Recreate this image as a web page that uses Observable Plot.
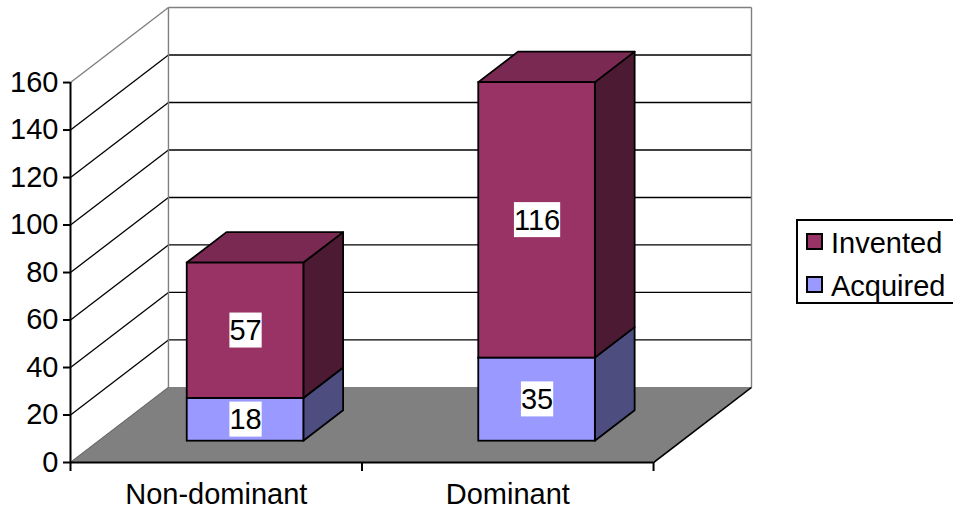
<!DOCTYPE html>
<html>
<head>
<meta charset="utf-8">
<script src="https://cdn.jsdelivr.net/npm/d3@7"></script>
<script src="https://cdn.jsdelivr.net/npm/@observablehq/plot@0.6"></script>
<style>
  html, body { margin: 0; padding: 0; background: #fff; overflow: hidden; }
  #chart { position: relative; width: 953px; height: 514px; font-family: "Liberation Sans", Arial, sans-serif; }
  #legend { position: absolute; left: 796px; top: 219px; width: 180px; height: 81px; border: 2px solid #000; background: #fff; }
  .item { position: absolute; left: 0; height: 32px; line-height: 32px; font-size: 29px; color: #000; }
  .sw { position: absolute; left: 8px; width: 13px; height: 13px; border: 2px solid #000; }
  .lbl { position: absolute; left: 33px; top: 0; white-space: nowrap; }
</style>
</head>
<body>
<div id="chart"></div>
<script>
// Stacked counts per category
const categories = ["Non-dominant", "Dominant"];
const seriesNames = ["Acquired", "Invented"];   // bottom to top
const acquired = [18, 35];
const invented = [57, 116];
const yTicks = [0, 20, 40, 60, 80, 100, 120, 140, 160];

// Face shading for each series: front, top, side
const faceColors = {
  Acquired: {front: "#9999FF", top: "#7A7ACC", side: "#4D4D80"},
  Invented: {front: "#993366", top: "#7A2952", side: "#4D1A33"}
};

const FONT_SIZE = 29;

// Oblique 3-D projection: moving from the front (t = 0) to the back wall (t = 1)
// shifts a point right by DX category units and up by DY value units.
const DX = 0.336;
const DY = 31.6;
const BAR_T0 = 0.284, BAR_T1 = 0.69;   // bar depth span
const BAR_X0 = 0.305, BAR_X1 = 0.705;  // bar extent within its category band
const px = (x, t) => x + t * DX;
const py = (v, t) => v + t * DY;

const nCat = categories.length;
const yMax = yTicks[yTicks.length - 1];

// Stack segments
const segments = categories.flatMap((cat, i) => {
  let lo = 0;
  const vals = {Acquired: acquired[i], Invented: invented[i]};
  return seriesNames.map((s, k) => {
    const seg = {cat, i, series: s, value: vals[s], lo, hi: lo + vals[s], isTop: k === seriesNames.length - 1};
    lo += vals[s];
    return seg;
  });
});

const fronts = segments.map(d => ({
  x1: px(d.i + BAR_X0, BAR_T0), x2: px(d.i + BAR_X1, BAR_T0),
  y1: py(d.lo, BAR_T0), y2: py(d.hi, BAR_T0),
  fill: faceColors[d.series].front
}));

const sides = segments.flatMap((d, k) => [BAR_T0, BAR_T1].map(t => ({
  key: k, x: px(d.i + BAR_X1, t), y1: py(d.lo, t), y2: py(d.hi, t),
  fill: faceColors[d.series].side
})));

const tops = segments.filter(d => d.isTop).flatMap((d, k) => [BAR_T0, BAR_T1].map(t => ({
  key: k, y: py(d.hi, t), x1: px(d.i + BAR_X0, t), x2: px(d.i + BAR_X1, t),
  fill: faceColors[d.series].top
})));

// Floor parallelogram
const floor = [0, 1].map(t => ({y: py(0, t), x1: px(0, t), x2: px(nCat, t)}));

// Gridlines on the left and back walls
const gridLines = yTicks.filter(v => v > 0 && v < yMax).flatMap(v => [
  {x1: px(0, 0), y1: py(v, 0), x2: px(0, 1), y2: py(v, 1)},
  {x1: px(0, 1), y1: py(v, 1), x2: px(nCat, 1), y2: py(v, 1)}
]);

// Wall outlines
const wallEdges = [
  {x1: px(0, 0), y1: py(yMax, 0), x2: px(0, 1), y2: py(yMax, 1)},
  {x1: px(0, 1), y1: py(yMax, 1), x2: px(nCat, 1), y2: py(yMax, 1)},
  {x1: px(0, 1), y1: py(0, 1), x2: px(0, 1), y2: py(yMax, 1)},
  {x1: px(nCat, 1), y1: py(0, 1), x2: px(nCat, 1), y2: py(yMax, 1)}
];
const floorLeft = [{x1: px(0, 0), y1: py(0, 0), x2: px(0, 1), y2: py(0, 1)}];
const floorRight = [{x1: px(nCat, 0), y1: py(0, 0), x2: px(nCat, 1), y2: py(0, 1)}];

const labels = segments.map(d => ({
  x: px(d.i + (BAR_X0 + BAR_X1) / 2, BAR_T0),
  y: py((d.lo + d.hi) / 2, BAR_T0),
  text: String(d.value)
}));

const catTicks = categories.map((c, i) => i + 0.5);
const bandEdges = d3.range(nCat + 1);

const chart = Plot.plot({
  width: 953,
  height: 514,
  marginLeft: 70,
  marginRight: 202,
  marginTop: 7,
  marginBottom: 52,
  x: {domain: [0, nCat + DX], axis: null},
  y: {domain: [0, yMax + DY], axis: null},
  color: {type: "identity"},
  style: {fontFamily: "'Liberation Sans', Arial, sans-serif", fontSize: FONT_SIZE + "px", background: "#fff", color: "#000", overflow: "visible"},
  marks: [
    Plot.link(gridLines, {x1: "x1", y1: "y1", x2: "x2", y2: "y2", stroke: "#000", strokeWidth: 1.3}),
    Plot.link(wallEdges, {x1: "x1", y1: "y1", x2: "x2", y2: "y2", stroke: "#808080", strokeWidth: 1.4}),
    Plot.areaX(floor, {y: "y", x1: "x1", x2: "x2", fill: "#808080", curve: "linear"}),
    Plot.link(floorLeft, {x1: "x1", y1: "y1", x2: "x2", y2: "y2", stroke: "#6a6a6a", strokeWidth: 1}),
    Plot.link(floorRight, {x1: "x1", y1: "y1", x2: "x2", y2: "y2", stroke: "#000", strokeWidth: 1.6}),
    Plot.area(sides, {x1: "x", y1: "y1", y2: "y2", z: "key", fill: "fill", stroke: "#000", strokeWidth: 1.8, curve: "linear"}),
    Plot.area(tops, {y1: "y", x1: "x1", x2: "x2", z: "key", fill: "fill", stroke: "#000", strokeWidth: 1.8, curve: "linear"}),
    Plot.rect(fronts, {x1: "x1", x2: "x2", y1: "y1", y2: "y2", fill: "fill", stroke: "#000", strokeWidth: 1.8}),
    Plot.text(labels, {x: "x", y: "y", text: "text", fontSize: FONT_SIZE, fill: "#000"}),
    // Axes
    Plot.ruleX([0], {y1: 0, y2: yMax, stroke: "#000", strokeWidth: 2}),
    Plot.ruleY([0], {x1: 0, x2: nCat, stroke: "#000", strokeWidth: 2}),
    Plot.axisY({ticks: yTicks, anchor: "left", tickSize: 7, tickPadding: 5, fontSize: FONT_SIZE, strokeWidth: 2, tickFormat: d => String(d)}),
    Plot.axisX({ticks: bandEdges, anchor: "bottom", tickSize: 9, strokeWidth: 2, tickFormat: () => ""}),
    Plot.axisX({ticks: catTicks, anchor: "bottom", tickSize: 0, tickPadding: 21, fontSize: FONT_SIZE, tickFormat: d => categories[Math.floor(d)]})
  ]
});

const container = document.getElementById("chart");
container.appendChild(chart);

// White boxes behind the value labels (the plain text mark's group)
const ns = "http://www.w3.org/2000/svg";
chart.querySelectorAll('g[aria-label="text"] text').forEach(t => {
  const b = t.getBBox();
  const r = document.createElementNS(ns, "rect");
  r.setAttribute("x", b.x);
  r.setAttribute("y", b.y - 1.5);
  r.setAttribute("width", b.width);
  r.setAttribute("height", b.height + 3);
  r.setAttribute("fill", "#fff");
  r.setAttribute("stroke", "none");
  const tr = t.getAttribute("transform");
  if (tr) r.setAttribute("transform", tr);
  t.parentNode.insertBefore(r, t);
});

// Legend (top series first)
const legend = document.createElement("div");
legend.id = "legend";
[...seriesNames].reverse().forEach((s, k) => {
  const item = document.createElement("div");
  item.className = "item";
  item.style.top = (6 + k * 42.6) + "px";
  const sw = document.createElement("div");
  sw.className = "sw";
  sw.style.top = "6px";
  sw.style.background = faceColors[s].front;
  const lbl = document.createElement("div");
  lbl.className = "lbl";
  lbl.textContent = s;
  item.appendChild(sw);
  item.appendChild(lbl);
  legend.appendChild(item);
});
container.appendChild(legend);
</script>
</body>
</html>
